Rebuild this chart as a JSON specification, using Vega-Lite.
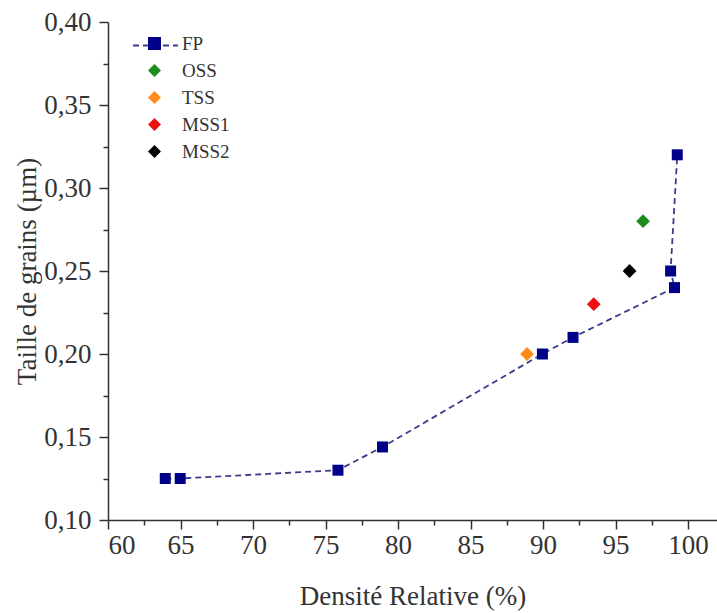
{
  "$schema": "https://vega.github.io/schema/vega-lite/v6.json",
  "width": 609,
  "height": 498,
  "autosize": "none",
  "padding": {"left": 108, "top": 22, "right": 0, "bottom": 93},
  "background": "white",
  "config": {
    "view": {"stroke": null},
    "font": "Liberation Serif",
    "axis": {
      "grid": false,
      "domainColor": "#333333",
      "domainWidth": 1.5,
      "tickColor": "#333333",
      "tickWidth": 1.5,
      "labelFont": "Liberation Serif",
      "labelFontSize": 27,
      "labelColor": "#333333",
      "titleFont": "Liberation Serif",
      "titleFontSize": 27,
      "titleFontWeight": "normal",
      "titleColor": "#333333"
    },
    "legend": {"labelFont": "Liberation Serif"}
  },
  "data": {
    "values": [
      {"x": 63.95, "y": 0.125, "series": "FP", "ord": 1},
      {"x": 64.98, "y": 0.125, "series": "FP", "ord": 2},
      {"x": 75.86, "y": 0.130, "series": "FP", "ord": 3},
      {"x": 78.93, "y": 0.144, "series": "FP", "ord": 4},
      {"x": 89.96, "y": 0.200, "series": "FP", "ord": 5},
      {"x": 92.07, "y": 0.210, "series": "FP", "ord": 6},
      {"x": 98.8, "y": 0.250, "series": "FP", "ord": 8},
      {"x": 99.07, "y": 0.240, "series": "FP", "ord": 7},
      {"x": 99.26, "y": 0.320, "series": "FP", "ord": 9},
      {"x": 96.9, "y": 0.280, "series": "OSS", "ord": 0},
      {"x": 88.9, "y": 0.200, "series": "TSS", "ord": 0},
      {"x": 93.5, "y": 0.230, "series": "MSS1", "ord": 0},
      {"x": 95.97, "y": 0.250, "series": "MSS2", "ord": 0}
    ]
  },
  "encoding": {
    "x": {
      "field": "x",
      "type": "quantitative",
      "scale": {"domain": [60, 102], "nice": false, "zero": false},
      "axis": {
        "title": "Densité Relative (%)",
        "values": [60, 62.5, 65, 67.5, 70, 72.5, 75, 77.5, 80, 82.5, 85, 87.5, 90, 92.5, 95, 97.5, 100],
        "labelExpr": "datum.value % 5 === 0 ? format(datum.value, 'd') : ''",
        "tickSize": {"condition": {"test": "datum.value % 5 === 0", "value": 9}, "value": 5},
        "labelPadding": 3,
        "titlePadding": 25
      }
    },
    "y": {
      "field": "y",
      "type": "quantitative",
      "scale": {"domain": [0.1, 0.4], "nice": false, "zero": false},
      "axis": {
        "title": "Taille de grains (µm)",
        "values": [0.1, 0.125, 0.15, 0.175, 0.2, 0.225, 0.25, 0.275, 0.3, 0.325, 0.35, 0.375, 0.4],
        "labelExpr": "abs(datum.value * 20 - round(datum.value * 20)) < 0.01 ? replace(format(datum.value, '.2f'), '.', ',') : ''",
        "tickSize": {"condition": {"test": "abs(datum.value * 20 - round(datum.value * 20)) < 0.01", "value": 9}, "value": 5},
        "labelPadding": 8,
        "titlePadding": 2
      }
    }
  },
  "layer": [
    {
      "transform": [{"filter": "datum.series === 'FP'"}],
      "mark": {"type": "line", "interpolate": "linear", "strokeWidth": 1.8, "color": "#3c3c8c"},
      "encoding": {
        "order": {"field": "ord", "type": "quantitative"},
        "strokeDash": {
          "field": "series",
          "type": "nominal",
          "scale": {"domain": ["FP"], "range": [[6, 4]]},
          "legend": {
            "title": null,
            "orient": "none",
            "legendX": 24,
            "legendY": 0,
            "padding": 0,
            "symbolType": "stroke",
            "symbolSize": 2025,
            "symbolStrokeWidth": 1.8,
            "symbolDash": [5, 3],
            "symbolStrokeColor": "#3c3c8c",
            "labelExpr": "''",
            "labelFontSize": 1,
            "labelOpacity": 0
          }
        }
      }
    },
    {
      "mark": {"type": "point", "filled": true, "opacity": 1},
      "encoding": {
        "color": {
          "field": "series",
          "type": "nominal",
          "scale": {"domain": ["FP", "OSS", "TSS", "MSS1", "MSS2"], "range": ["#000088", "#1e8c1e", "#ff8c1a", "#ee1111", "#000000"]},
          "legend": {
            "title": null,
            "orient": "none",
            "legendX": 37,
            "legendY": 12,
            "padding": 0,
            "symbolSize": 170,
            "labelFont": "Liberation Serif",
            "labelFontSize": 19,
            "labelColor": "#333333",
            "labelOffset": 18,
            "rowPadding": 7,
            "zindex": 2
          }
        },
        "shape": {
          "field": "series",
          "type": "nominal",
          "scale": {"domain": ["FP", "OSS", "TSS", "MSS1", "MSS2"], "range": ["square", "diamond", "diamond", "diamond", "diamond"]},
          "legend": {
            "title": null,
            "orient": "none",
            "legendX": 37,
            "legendY": 12,
            "padding": 0,
            "symbolSize": 170,
            "labelFont": "Liberation Serif",
            "labelFontSize": 19,
            "labelColor": "#333333",
            "labelOffset": 18,
            "rowPadding": 7,
            "zindex": 2
          }
        },
        "size": {"condition": {"test": "datum.series === 'FP'", "value": 121}, "value": 190}
      }
    }
  ]
}
